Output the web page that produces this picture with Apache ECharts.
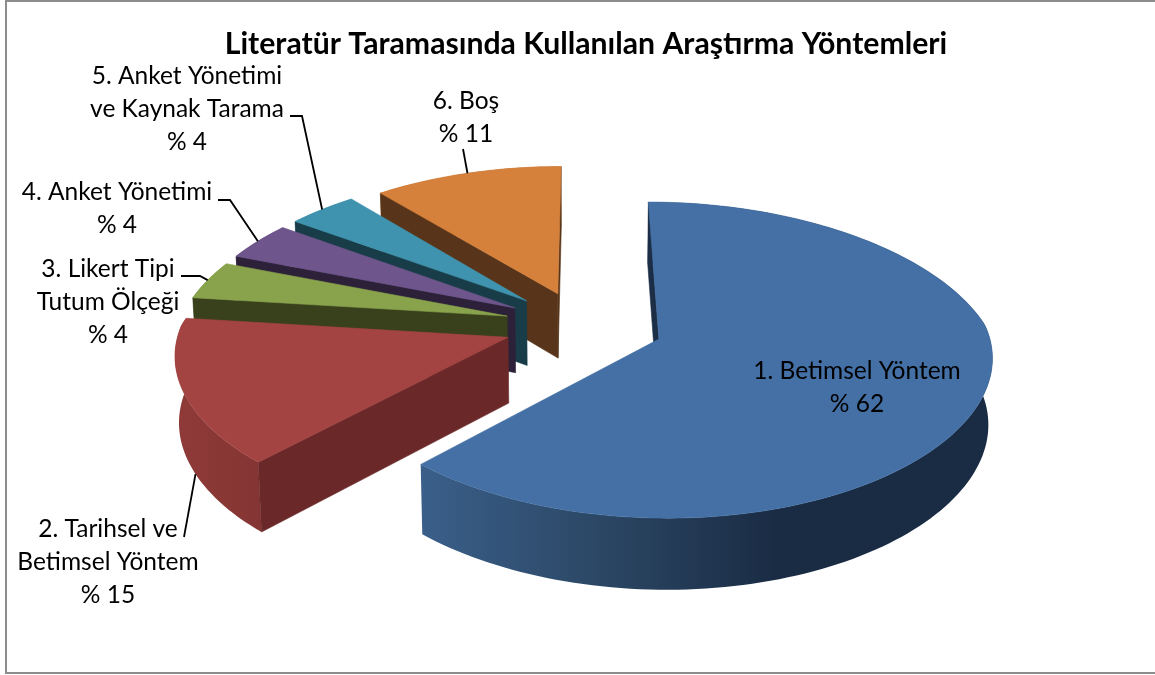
<!DOCTYPE html>
<html><head><meta charset="utf-8">
<style>html,body{margin:0;padding:0;background:#fff}#c{width:1155px;height:675px}</style>
<script src="https://cdn.jsdelivr.net/npm/echarts@6/dist/echarts.min.js"></script>
</head><body><div id="c"></div>
<script>
const titleText = 'Literatür Taramasında Kullanılan Araştırma Yöntemleri';
const categories = ['1. Betimsel Yöntem','2. Tarihsel ve\nBetimsel Yöntem','3. Likert Tipi\nTutum Ölçeği','4. Anket Yönetimi','5. Anket Yönetimi\nve Kaynak Tarama','6. Boş'];
const values = [62,15,4,4,4,11];
const percentLabels = ['% 62','% 15','% 4','% 4','% 4','% 11'];

// projection of the exploded disc
const scene = {cx:582, cy:325, R:328, explode:[82,78,78,78,78,74], tilt:0.462, persp:0.0004, perspXBack:0.0005, perspXFront:0.0003, depth:67, convergeX:0.01, convergeY:0.025, startDeg:0};
const look = [
  {top:'#4470a5', cut:'#1b2e46', wall:[[0,'#3a5f8a'],[0.3,'#2c4866'],[0.62,'#1a2c44'],[1,'#1a2c44']]},
  {top:'#a34342', cut:'#6a2828', wall:[[0,'#8f3a38'],[1,'#843533']]},
  {top:'#88a34b', cut:'#38401c', wall:[[0,'#6c823c'],[1,'#6c823c']]},
  {top:'#6e568c', cut:'#2d2139', wall:[[0,'#574570'],[1,'#574570']]},
  {top:'#3f93ae', cut:'#183c48', wall:[[0,'#32758b'],[1,'#32758b']]},
  {top:'#d5803b', cut:'#58351a', wall:[[0,'#aa662f'],[1,'#aa662f']]}
];
const labelBoxes = [
  {x:857,y:387.5},{x:108,y:562.5},{x:108,y:302},{x:117,y:208.5},{x:187,y:109},{x:466,y:118}
];
const leaderStart = [null,[[184,537]],[[181,276],[200,276]],[[218,200],[230,200]],[[290,116],[302,116]],[[463,149]]];
const leaderAnchor = [null,{deg:-5,h:1},{deg:0,h:0},{deg:0,h:0},{deg:0,h:0},{deg:0,h:0}];
const drawOrder = [5,4,3,2,1,0];

const total = values.reduce((a,b)=>a+b,0);
const rad = d => d*Math.PI/180;
function slicesAngles(){let a=scene.startDeg;return values.map(v=>{const s=a;a+=v/total*360;return [s,a];});}
const angles = slicesAngles();
function project(u,v,h){
  const px=v>0?scene.perspXBack:scene.perspXFront;
  return [scene.cx+u/((1+px*v)*(1+scene.convergeX*h)), scene.cy+(-v*scene.tilt+scene.depth*h)/((1+scene.persp*v)*(1+scene.convergeY*h))];
}
function pt(i,deg,r,h){
  const mid=rad((angles[i][0]+angles[i][1])/2), a=rad(deg), e=scene.explode[i];
  return project(e*Math.sin(mid)+r*Math.sin(a), e*Math.cos(mid)+r*Math.cos(a), h);
}
function arc(i,h,from,to){
  const n=Math.max(2,Math.ceil(Math.abs(to-from)/1.5)),out=[];
  for(let k=0;k<=n;k++) out.push(pt(i,from+(to-from)*k/n,scene.R,h));
  return out;
}
function poly(points,fill,z){return {type:'polygon',z2:z,shape:{points},style:{fill,stroke:typeof fill==='string'?fill:null,lineWidth:typeof fill==='string'?0.6:0}};}
function side(a,b,p){return (b[0]-a[0])*(p[1]-a[1])-(b[1]-a[1])*(p[0]-a[0]);}
function render(params){
  const i=drawOrder[params.dataIndex],[a0,a1]=angles[i],L=look[i],c=[],z=params.dataIndex*10+1;
  const ap0=pt(i,a0,0,0),ap1=pt(i,a0,0,1);
  const topArc=arc(i,0,a0,a1), botArc=arc(i,1,a0,a1);
  const xs=topArc.concat(botArc).map(p=>p[0]);
  const wallFill={type:'linear',global:true,x:Math.min(...xs),y:0,x2:Math.max(...xs),y2:0,colorStops:L.wall.map(s=>({offset:s[0],color:s[1]}))};
  c.push(poly(topArc.concat(botArc.slice().reverse()),wallFill,z));
  // a cut face is drawn only when its lower edge falls outside the top face
  const inner=pt(i,(a0+a1)/2,scene.R*0.5,0);
  [a1,a0].forEach((deg,k)=>{
    const o0=pt(i,deg,scene.R,0),o1=pt(i,deg,scene.R,1);
    if(Math.abs(a1-a0)<180 ? side(ap0,o0,o1)*side(ap0,o0,inner)<0 : k===1){
      c.push(poly([ap0,o0,o1,ap1],L.cut,z+1+k));
    }
  });
  c.push(poly([ap0].concat(topArc),L.top,z+3));
  const box=labelBoxes[i];
  c.push({type:'text',z2:200,style:{text:categories[i]+'\n'+percentLabels[i],x:box.x,y:box.y,align:'center',verticalAlign:'middle',lineHeight:33,font:'24.5px Lato',fill:'#000'}});
  if(leaderStart[i]){
    const an=leaderAnchor[i],m=(a0+a1)/2+an.deg;
    c.push({type:'polyline',z2:190,shape:{points:leaderStart[i].concat([pt(i,m,scene.R,an.h)])},style:{stroke:'#000',lineWidth:1.8,fill:null}});
  }
  return {type:'group',children:c};
}
const chart=echarts.init(document.getElementById('c'),null,{renderer:'canvas'});
chart.setOption({
  animation:false,
  backgroundColor:'#fff',
  title:{text:titleText,left:581,top:24,textAlign:'center',textStyle:{fontFamily:'Lato',fontWeight:'bold',fontSize:30.2,color:'#000'}},
  graphic:[{type:'rect',shape:{x:6,y:1,width:1165,height:672},style:{fill:'none',stroke:'#8c8c8c',lineWidth:2},silent:true}],
  series:[{type:'custom',coordinateSystem:'none',renderItem:render,clip:false,silent:true,
    data:drawOrder.map(i=>[i,values[i]])}]
});
</script></body></html>
